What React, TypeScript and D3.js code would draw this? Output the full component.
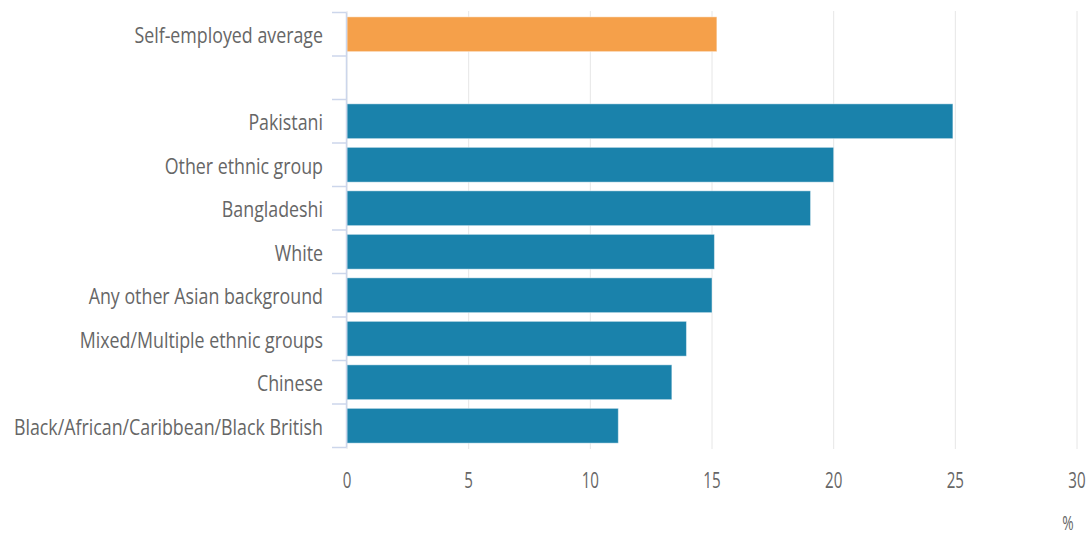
import React from "react";
import * as d3 from "d3";

const categories = [
  "Self-employed average",
  " ",
  "Pakistani",
  "Other ethnic group",
  "Bangladeshi",
  "White",
  "Any other Asian background",
  "Mixed/Multiple ethnic groups",
  "Chinese",
  "Black/African/Caribbean/Black British",
];
const values: (number | null)[] = [15.2, null, 24.9, 20.0, 19.05, 15.1, 15.0, 13.95, 13.35, 11.15];
const highlight = ["Self-employed average"];
const xTicks = [0, 5, 10, 15, 20, 25, 30];
const unitLabel = "%";

const W = 1086;
const H = 536;
const FONT = "'Open Sans', sans-serif";
const SX = 0.81;

export default function App() {
  const x = d3.scaleLinear().domain([0, 30]).range([347, 1077]);
  const y = d3
    .scaleBand<string>()
    .domain(categories)
    .range([12.5, 447.5])
    .paddingInner(0.2)
    .paddingOuter(0.1);
  const step = y.step();
  const r0 = 12.5;
  const boundaries = d3.range(categories.length + 1).map((i) => r0 + i * step);

  return (
    <svg
      width={W}
      height={H}
      style={{ position: "absolute", left: 0, top: 0, background: "#fff" }}
    >
      {xTicks.map((t) => (
        <line
          key={"g" + t}
          x1={x(t)}
          x2={x(t)}
          y1={11}
          y2={449}
          stroke="#e6e6e6"
          strokeWidth={1}
        />
      ))}
      {categories.map((c, i) =>
        values[i] == null ? null : (
          <rect
            key={"b" + i}
            x={x(0)}
            y={y(c)!}
            width={x(values[i] as number) - x(0)}
            height={y.bandwidth()}
            fill={highlight.includes(c) ? "#f5a04a" : "#1a82ab"}
            stroke="rgba(255,255,255,0.45)"
            strokeWidth={1}
          />
        )
      )}
      <line x1={346.5} x2={346.5} y1={r0} y2={r0 + step * categories.length} stroke="#ccd6eb" strokeWidth={1.5} />
      {boundaries.map((b, i) => (
        <line key={"t" + i} x1={332} x2={346.5} y1={b} y2={b} stroke="#ccd6eb" strokeWidth={1.5} />
      ))}
      {categories.map((c) => (
        <text
          key={"l" + c}
          transform={`translate(323,${y(c)! + y.bandwidth() / 2 + 1}) scale(${SX},1)`}
          textAnchor="end"
          dominantBaseline="central"
          fontFamily={FONT}
          fontSize={22}
          fill="#666"
        >
          {c.trim()}
        </text>
      ))}
      {xTicks.map((t) => (
        <text
          key={"x" + t}
          transform={`translate(${x(t)},480) scale(${SX * 0.85},1)`}
          textAnchor="middle"
          dominantBaseline="central"
          fontFamily={FONT}
          fontSize={22}
          fill="#666"
        >
          {t}
        </text>
      ))}
      <text
        transform={`translate(1068,522) scale(${SX * 0.85},1)`}
        textAnchor="middle"
        dominantBaseline="central"
        fontFamily={FONT}
        fontSize={20}
        fill="#666"
      >
        {unitLabel}
      </text>
    </svg>
  );
}
